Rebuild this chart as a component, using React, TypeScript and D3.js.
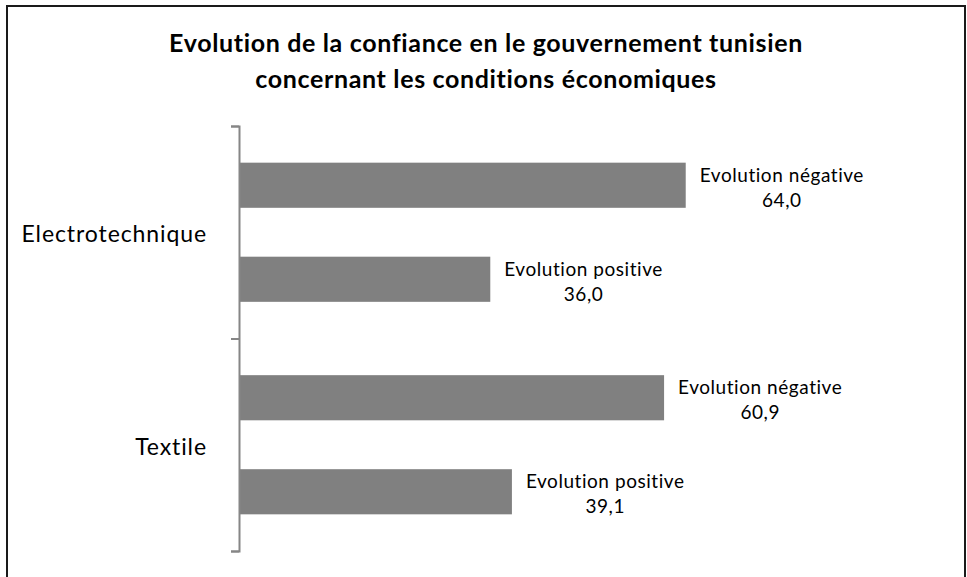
import React, { useEffect, useRef } from 'react';
import * as d3 from 'd3';

const categories = ['Electrotechnique', 'Textile'];
const seriesNames = ['Evolution négative', 'Evolution positive'];
const negativeValues = [64.0, 60.9];
const positiveValues = [36.0, 39.1];
const titleLines = [
  'Evolution de la confiance en le gouvernement tunisien',
  'concernant les conditions économiques',
];

const WIDTH = 967;
const HEIGHT = 577;
const FONT = 'Lato, "Open Sans", sans-serif';

const App: React.FC = () => {
  const svgRef = useRef<SVGSVGElement>(null);

  useEffect(() => {
    if (!svgRef.current) return;
    document.body.style.margin = '0';

    const svg = d3.select(svgRef.current);
    svg.selectAll('*').remove();

    // outer frame (bottom edge falls outside the picture)
    svg.append('rect')
      .attr('x', 7)
      .attr('y', 6)
      .attr('width', 958)
      .attr('height', 600)
      .attr('fill', '#fff')
      .attr('stroke', '#1a1a1a')
      .attr('stroke-width', 2);

    // title
    const title = svg.append('text')
      .attr('text-anchor', 'middle')
      .attr('font-family', FONT)
      .attr('font-weight', 'bold')
      .attr('font-size', '25px')
      .attr('letter-spacing', '0.65px')
      .style('font-variant-ligatures', 'none')
      .attr('fill', '#000');
    titleLines.forEach((line, i) => {
      title.append('tspan')
        .attr('x', 486)
        .attr('y', 52 + i * 36)
        .text(line);
    });

    const x = d3.scaleLinear().domain([0, 100]).range([239, 937]);
    const y = d3.scaleBand<string>().domain(categories).range([126, 551]).padding(0);
    const ySub = d3.scaleBand<string>()
      .domain(seriesNames)
      .range([0, y.bandwidth()])
      .paddingInner(0.52)
      .paddingOuter(0.39);

    const rows = categories.flatMap((cat, i) => [
      { cat, series: seriesNames[0], value: negativeValues[i] },
      { cat, series: seriesNames[1], value: positiveValues[i] },
    ]);

    const fmt = (v: number) => d3.format('.1f')(v).replace('.', ',');

    // bars
    svg.append('g')
      .selectAll('rect')
      .data(rows)
      .join('rect')
      .attr('x', x(0))
      .attr('y', d => (y(d.cat) ?? 0) + (ySub(d.series) ?? 0))
      .attr('width', d => x(d.value) - x(0))
      .attr('height', ySub.bandwidth())
      .attr('fill', '#808080');

    // category axis
    const axis = svg.append('g')
      .attr('transform', `translate(${x(0)},0)`)
      .call(
        d3.axisLeft(d3.scaleLinear().domain([0, 2]).range([126, 551]))
          .tickValues([0, 1, 2])
          .tickSize(8)
          .tickFormat(() => '')
      );
    axis.select('.domain').attr('stroke', '#868686').attr('stroke-width', 2);
    axis.selectAll('.tick line').attr('stroke', '#868686').attr('stroke-width', 2);

    // category labels
    svg.append('g')
      .selectAll('text')
      .data(categories)
      .join('text')
      .attr('x', 207)
      .attr('y', d => (y(d) ?? 0) + y.bandwidth() / 2 + 4)
      .attr('text-anchor', 'end')
      .attr('dominant-baseline', 'middle')
      .attr('font-family', FONT)
      .attr('font-size', '23px')
      .attr('letter-spacing', '0.9px')
      .style('font-variant-ligatures', 'none')
      .attr('fill', '#000')
      .text(d => d);

    // data labels
    rows.forEach(d => {
      const cy = (y(d.cat) ?? 0) + (ySub(d.series) ?? 0) + ySub.bandwidth() / 2;
      const label = svg.append('text')
        .attr('font-family', FONT)
        .attr('font-size', '19px')
        .attr('letter-spacing', '0.55px')
        .style('font-variant-ligatures', 'none')
        .attr('fill', '#000')
        .attr('text-anchor', 'middle');
      const first = label.append('tspan').text(d.series);
      const w = (first.node() as SVGTSpanElement).getComputedTextLength();
      const cx = x(d.value) + 14 + w / 2;
      first.attr('x', cx).attr('y', cy - 3.5);
      label.append('tspan').attr('x', cx).attr('y', cy + 21.5).text(fmt(d.value));
    });
  }, []);

  return (
    <svg
      ref={svgRef}
      width={WIDTH}
      height={HEIGHT}
      style={{ position: 'absolute', left: 0, top: 0, display: 'block' }}
    />
  );
};

export default App;
